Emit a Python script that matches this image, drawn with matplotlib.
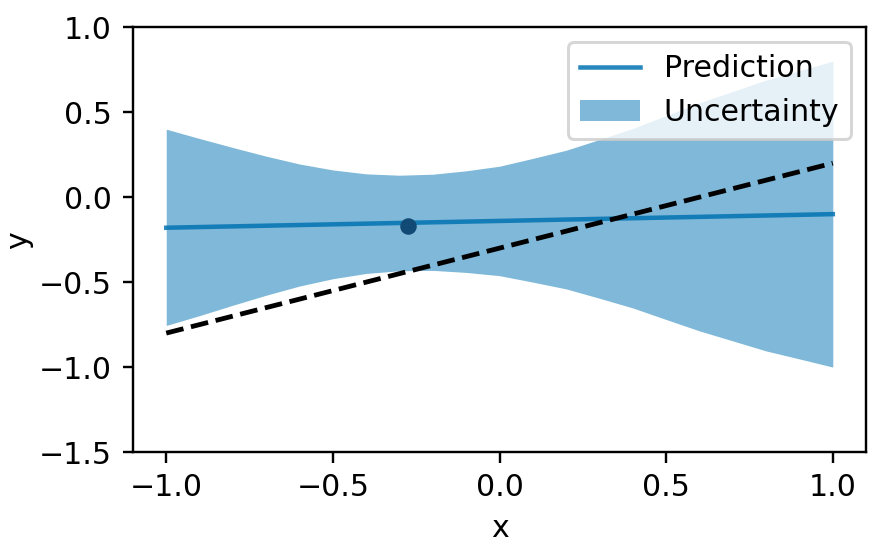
import numpy as np
import matplotlib.pyplot as plt

# -----------------------------
# values
# -----------------------------
x_grid = [-1.0, -0.9, -0.8, -0.7, -0.6, -0.5, -0.4, -0.3, -0.2, -0.1, 0.0,
          0.1, 0.2, 0.3, 0.4, 0.5, 0.6, 0.7, 0.8, 0.9, 1.0]
upper = [0.40, 0.345, 0.292, 0.241, 0.195, 0.160, 0.137, 0.129, 0.135, 0.155, 0.182,
         0.228, 0.276, 0.339, 0.404, 0.480, 0.555, 0.622, 0.689, 0.744, 0.800]
lower = [-0.755, -0.697, -0.636, -0.577, -0.523, -0.480, -0.449, -0.433, -0.431, -0.443, -0.462,
         -0.500, -0.540, -0.595, -0.652, -0.720, -0.787, -0.846, -0.905, -0.952, -1.000]

pred_x = [-1.0, 1.0]
pred_y = [-0.18, -0.10]

true_x = [-1.0, 1.0]
true_y = [-0.80, 0.20]

obs_x = [-0.276]
obs_y = [-0.171]

BLUE = '#0173b2'

fig = plt.figure(figsize=(892 / 216, 544 / 216), dpi=216)
ax = fig.add_axes([0.149, 0.169, 0.822, 0.781])

ax.fill_between(x_grid, lower, upper, color=BLUE, alpha=0.5, linewidth=0,
                label='Uncertainty')
ax.plot(pred_x, pred_y, color=BLUE, alpha=0.85, linewidth=1.5, label='Prediction')
ax.plot(true_x, true_y, color='black', linestyle='--', linewidth=1.6)
ax.plot(obs_x, obs_y, 'o', color='#104a75', markersize=4.5)

ax.set_xlim(-1.1, 1.1)
ax.set_ylim(-1.5, 1.0)
ax.set_xticks([-1.0, -0.5, 0.0, 0.5, 1.0])
ax.set_yticks([-1.5, -1.0, -0.5, 0.0, 0.5, 1.0])
ax.set_xlabel('x')
ax.set_ylabel('y', labelpad=2)

handles, labels = ax.get_legend_handles_labels()
ax.legend(handles[::-1], labels[::-1], loc='upper right')

fig.savefig('out.png', dpi=216)
